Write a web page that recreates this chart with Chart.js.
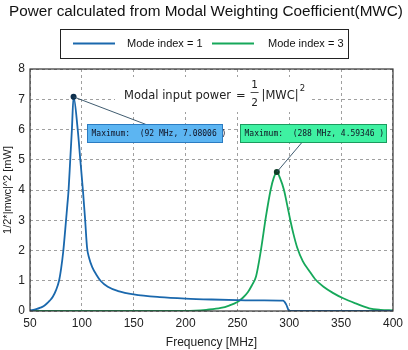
<!DOCTYPE html>
<html>
<head>
<meta charset="utf-8">
<script src="https://cdn.jsdelivr.net/npm/chart.js@4.4.1/dist/chart.umd.min.js"></script>
<style>
  html, body { margin: 0; padding: 0; background: #fff; }
</style>
</head>
<body>
<canvas id="mwcChart" width="408" height="350"></canvas>
<script>
// values
const freqMode1 = [50, 52, 56, 60, 63, 66, 69, 72, 75, 78, 80, 82, 84, 85, 86, 87.2, 88.8, 90.4, 92,
  96, 98.5, 101, 103, 105, 107, 110, 114, 118, 125, 135, 150, 175, 200, 225, 250, 275, 294, 297, 300, 350, 400];
const powerMode1 = [0.02, 0.03, 0.06, 0.11, 0.16, 0.24, 0.34, 0.47, 0.68, 1.0, 1.4, 1.95, 2.7, 3.1, 3.5, 4.0, 5.0, 6.0, 7.08006,
  6.0, 5.0, 4.0, 3.1, 2.1, 1.75, 1.45, 1.2, 1.0, 0.8, 0.66, 0.55, 0.46, 0.41, 0.38, 0.36, 0.35, 0.34, 0.22, 0, 0, 0];

const freqMode3 = [50, 100, 150, 200, 209, 220, 234, 242, 250, 255, 260, 264, 268, 272.6, 277.4, 282, 285, 288,
  291, 294.9, 298, 301, 304, 307.6, 313, 318.8, 325, 333, 342, 352, 364, 377, 388, 400];
const powerMode3 = [0, 0, 0, 0, 0.01, 0.04, 0.1, 0.18, 0.3, 0.43, 0.62, 0.85, 1.15, 2.0, 3.1, 4.0, 4.4, 4.59346,
  4.4, 4.0, 3.5, 3.0, 2.55, 2.1, 1.65, 1.35, 1.05, 0.8, 0.6, 0.42, 0.25, 0.09, 0.04, 0.02];

const seriesLabels = ['Mode index = 1', 'Mode index = 3'];
const seriesColors = ['#1a68ad', '#16a85a'];
const xTickStep = 50;
const yTickStep = 1;

const peaks = [
  { x: 92, y: 7.08006, text: 'Maximum:  (92 MHz, 7.08006 )', fill: '#5cb5f2', edge: '#2b7cc2',
    boxX: 105.3, boxY: 6.17, w: 135, lineX: 161.6, lineY: 6.17 },
  { x: 288, y: 4.59346, text: 'Maximum:  (288 MHz, 4.59346 )', fill: '#3ff1a2', edge: '#1b9b5e',
    boxX: 252.3, boxY: 6.17, w: 146, lineX: 312.4, lineY: 5.58 }
];

function toPoints(xs, ys) {
  return xs.map((x, i) => ({ x, y: ys[i] }));
}

const decorations = {
  id: 'decorations',
  afterDatasetsDraw(chart) {
    const { ctx, chartArea: a, scales: { x, y } } = chart;
    ctx.save();

    // frame round the plot
    ctx.strokeStyle = '#333';
    ctx.lineWidth = 1.2;
    ctx.strokeRect(a.left, a.top, a.right - a.left, a.bottom - a.top);

    // formula text on white
    ctx.fillStyle = '#fff';
    ctx.fillRect(115, 77, 197, 35);
    ctx.fillStyle = '#222';
    ctx.textBaseline = 'alphabetic';
    ctx.textAlign = 'left';
    ctx.font = '11.5px "DejaVu Sans"';
    let cx = 124;
    ctx.fillText('Modal input power', cx, 99);
    cx += ctx.measureText('Modal input power').width + 5;
    ctx.fillText('=', cx, 99);
    cx += ctx.measureText('=').width + 5;
    ctx.font = '10.5px "DejaVu Sans"';
    ctx.textAlign = 'center';
    ctx.fillText('1', cx + 4, 88);
    ctx.fillText('2', cx + 4, 106);
    ctx.fillRect(cx, 92, 8, 0.8);
    cx += 11;
    ctx.textAlign = 'left';
    ctx.font = '11.5px "DejaVu Sans"';
    ctx.fillText('|MWC|', cx, 99);
    cx += ctx.measureText('|MWC|').width + 1;
    ctx.font = '8.5px "DejaVu Sans"';
    ctx.fillText('2', cx, 91);

    // maximum labels
    peaks.forEach(p => {
      const px = x.getPixelForValue(p.x), py = y.getPixelForValue(p.y);
      ctx.strokeStyle = '#2a4a60';
      ctx.lineWidth = 0.9;
      ctx.beginPath();
      ctx.moveTo(px, py);
      ctx.lineTo(x.getPixelForValue(p.lineX), y.getPixelForValue(p.lineY));
      ctx.stroke();

      const bx = Math.round(x.getPixelForValue(p.boxX)) + 0.5;
      const by = Math.round(y.getPixelForValue(p.boxY)) + 0.5;
      ctx.fillStyle = p.fill;
      ctx.fillRect(bx, by, p.w, 18);
      ctx.strokeStyle = p.edge;
      ctx.lineWidth = 1;
      ctx.strokeRect(bx, by, p.w, 18);
      ctx.fillStyle = '#112';
      ctx.font = '8px "DejaVu Sans Mono"';
      ctx.textAlign = 'left';
      ctx.textBaseline = 'middle';
      ctx.fillText(p.text, bx + 4, by + 9.5);
    });
    ctx.restore();
  },
  afterDraw(chart) {
    const { ctx } = chart;
    ctx.save();
    // title
    ctx.fillStyle = '#111';
    ctx.font = '15.3px "Liberation Sans"';
    ctx.textAlign = 'center';
    ctx.textBaseline = 'middle';
    ctx.fillText('Power calculated from Modal Weighting Coefficient(MWC)', 206, 12);

    // legend box
    ctx.fillStyle = '#fff';
    ctx.fillRect(60.5, 29.5, 288, 29);
    ctx.strokeStyle = '#222';
    ctx.lineWidth = 1;
    ctx.strokeRect(60.5, 29.5, 288, 29);
    const items = [[73, 127], [212, 268]];
    ctx.font = '11px "Liberation Sans"';
    ctx.textAlign = 'left';
    items.forEach(([lx, tx], i) => {
      ctx.strokeStyle = seriesColors[i];
      ctx.lineWidth = 2;
      ctx.beginPath();
      ctx.moveTo(lx, 43.5);
      ctx.lineTo(lx + 42, 43.5);
      ctx.stroke();
      ctx.fillStyle = '#111';
      ctx.fillText(seriesLabels[i], tx, 44);
    });
    ctx.restore();
  }
};

function peakRadius(p) {
  return c => (c.raw && c.raw.x === p.x ? 3 : 0);
}

const ctx = document.getElementById('mwcChart').getContext('2d');
new Chart(ctx, {
  type: 'line',
  data: {
    datasets: [{
      label: seriesLabels[0],
      data: toPoints(freqMode1, powerMode1),
      borderColor: seriesColors[0],
      borderWidth: 1.8,
      pointRadius: peakRadius(peaks[0]),
      pointBackgroundColor: '#0d2f4d',
      pointBorderWidth: 0,
      cubicInterpolationMode: 'monotone'
    }, {
      label: seriesLabels[1],
      data: toPoints(freqMode3, powerMode3),
      borderColor: seriesColors[1],
      borderWidth: 1.8,
      pointRadius: peakRadius(peaks[1]),
      pointBackgroundColor: '#0d3f25',
      pointBorderWidth: 0,
      cubicInterpolationMode: 'monotone'
    }]
  },
  options: {
    responsive: false,
    animation: false,
    layout: { padding: { left: 0, right: 11, top: 69, bottom: 0 } },
    plugins: {
      legend: { display: false },
      title: { display: false },
      tooltip: { enabled: false }
    },
    scales: {
      x: {
        type: 'linear',
        min: 50,
        max: 400,
        afterFit(s) { s.height = 39; },
        ticks: { stepSize: xTickStep, color: '#222', padding: 5, maxRotation: 0,
          font: { family: 'Liberation Sans', size: 12 } },
        grid: { color: '#a0a0a0', drawTicks: false },
        border: { display: false, dash: [3, 3] },
        title: { display: true, text: 'Frequency [MHz]', color: '#222', padding: 0,
          font: { family: 'Liberation Sans', size: 12 } }
      },
      y: {
        min: 0,
        max: 8,
        afterFit(s) { s.width = 30; },
        ticks: { stepSize: yTickStep, color: '#222', padding: 5,
          font: { family: 'Liberation Sans', size: 12 } },
        grid: { color: '#a0a0a0', drawTicks: false },
        border: { display: false, dash: [3, 3] },
        title: { display: true, text: '1/2*|mwc|^2 [mW]', color: '#222', padding: 1,
          font: { family: 'Liberation Sans', size: 11 } }
      }
    }
  },
  plugins: [decorations]
});
</script>
</body>
</html>
